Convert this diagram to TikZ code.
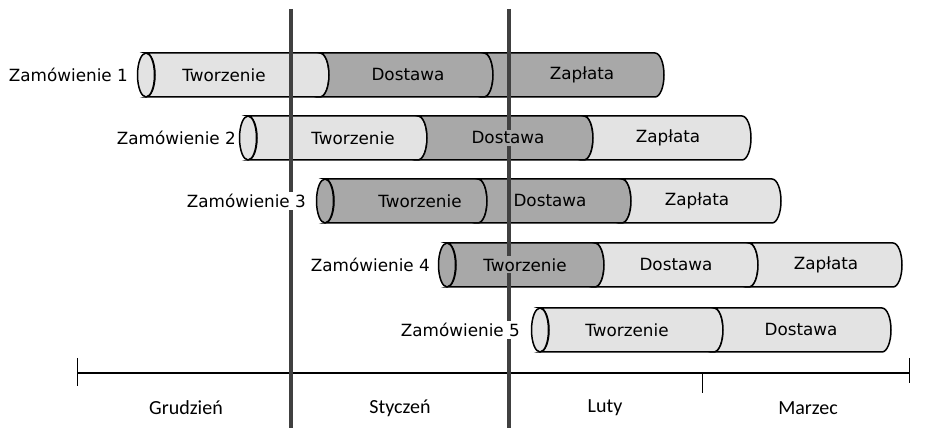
\documentclass[tikz,border=0pt]{standalone}
\usepackage{fontspec}
\setmainfont{DejaVu Sans}
\newfontfamily\monthfont{Carlito}
\usetikzlibrary{positioning}

\definecolor{lightfill}{gray}{0.89}
\definecolor{darkfill}{gray}{0.66}
\definecolor{markline}{gray}{0.25}

% one piece of a pipe: start x, end x, centre y, fill
\newcommand{\pipeseg}[4]{%
  \filldraw[fill=#4, draw=black, line width=1.5pt]
    (#1,#3+22) -- (#2,#3+22) arc[start angle=90, end angle=-90, x radius=9pt, y radius=22pt]
    -- (#1,#3-22) arc[start angle=-90, end angle=90, x radius=9pt, y radius=22pt] -- cycle;}
% open end on the left
\newcommand{\pipecap}[3]{%
  \filldraw[fill=#3, draw=black, line width=1.5pt] (#1,#2) ellipse[x radius=8.5pt, y radius=22pt];}

\begin{document}
\begin{tikzpicture}[
  x=1pt, y=1pt,
  seglabel/.style={inner sep=2pt, font=\fontsize{16.8}{19}\selectfont},
  orderlabel/.style={anchor=east, fill=white, inner sep=2pt, font=\fontsize{16.8}{19}\selectfont},
  monthlabel/.style={font=\monthfont\fontsize{20}{23}\selectfont},
  marker/.style={draw=markline, line width=3.5pt},
  tick/.style={draw=black, line width=0.8pt}
]
\useasboundingbox (0,0) rectangle (927,438);

% pipes
\pipeseg{146}{320}{363}{lightfill}
\pipeseg{320}{484}{363}{darkfill}
\pipeseg{484}{655}{363}{darkfill}
\pipecap{146}{363}{lightfill}

\pipeseg{248}{418}{300}{lightfill}
\pipeseg{418}{584}{300}{darkfill}
\pipeseg{584}{742}{300}{lightfill}
\pipecap{248}{300}{lightfill}

\pipeseg{325}{478}{237}{darkfill}
\pipeseg{478}{622}{237}{darkfill}
\pipeseg{622}{772}{237}{lightfill}
\pipecap{325}{237}{darkfill}

\pipeseg{447}{595}{173}{darkfill}
\pipeseg{595}{749}{173}{lightfill}
\pipeseg{749}{893}{173}{lightfill}
\pipecap{447}{173}{darkfill}

\pipeseg{540}{714}{108}{lightfill}
\pipeseg{714}{882}{108}{lightfill}
\pipecap{540}{108}{lightfill}

% time axis
\coordinate (ax0) at (77,65);
\coordinate (ax1) at (909,65);
\coordinate (tk1) at (702,65);
\draw[line width=1.5pt] (ax0) -- (ax1);
\draw[tick] ([yshift=15pt]ax0) -- ([yshift=-13pt]ax0);
\draw[tick] (tk1) -- ([yshift=-20pt]tk1);
\draw[tick] ([yshift=15pt]ax1) -- ([yshift=-10pt]ax1);

% month borders
\coordinate (b1top) at (291,429);
\coordinate (b1bot) at (291,10);
\coordinate (b2top) at (509,429);
\coordinate (b2bot) at (509,10);
\draw[marker] (b1top) -- (b1bot);
\draw[marker] (b2top) -- (b2bot);

% labels
\node[orderlabel] (o1) at (130,363) {Zamówienie 1};
\node[seglabel, fill=lightfill] (o1t) at (224,363) {Tworzenie};
\node[seglabel, fill=darkfill] (o1d) at (408,363) {Dostawa};
\node[seglabel, fill=darkfill] (o1z) at (582,363) {Zapłata};

\node[orderlabel] (o2) at (238,300) {Zamówienie 2};
\node[seglabel, fill=lightfill] (o2t) at (353,300) {Tworzenie};
\node[seglabel, fill=darkfill] (o2d) at (508,300) {Dostawa};
\node[seglabel, fill=lightfill] (o2z) at (668,300) {Zapłata};

\node[orderlabel] (o3) at (308,237) {Zamówienie 3};
\node[seglabel, fill=darkfill] (o3t) at (420,237) {Tworzenie};
\node[seglabel, fill=darkfill] (o3d) at (550,237) {Dostawa};
\node[seglabel, fill=lightfill] (o3z) at (697,237) {Zapłata};

\node[orderlabel] (o4) at (432,173) {Zamówienie 4};
\node[seglabel, fill=darkfill] (o4t) at (525,173) {Tworzenie};
\node[seglabel, fill=lightfill] (o4d) at (676,173) {Dostawa};
\node[seglabel, fill=lightfill] (o4z) at (826,173) {Zapłata};

\node[orderlabel] (o5) at (522,108) {Zamówienie 5};
\node[seglabel, fill=lightfill] (o5t) at (627,108) {Tworzenie};
\node[seglabel, fill=lightfill] (o5d) at (801,108) {Dostawa};

\node[monthlabel] (m1) at (186,30) {Grudzień};
\node[monthlabel] (m2) at (400,30) {Styczeń};
\node[monthlabel] (m3) at (605,30) {Luty};
\node[monthlabel] (m4) at (808,30) {Marzec};
\end{tikzpicture}
\end{document}
